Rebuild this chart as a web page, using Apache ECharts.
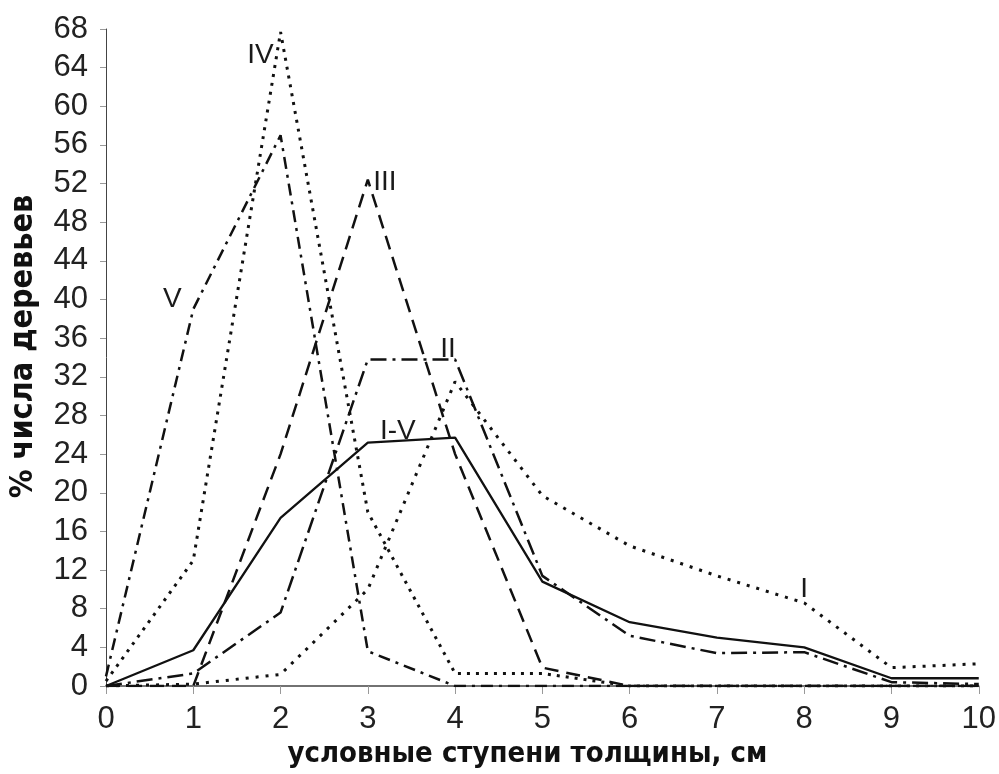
<!DOCTYPE html>
<html>
<head>
<meta charset="utf-8">
<script src="https://cdn.jsdelivr.net/npm/echarts@6/dist/echarts.min.js"></script>
<style>
  html, body { margin: 0; padding: 0; background: #ffffff; }
  #chart { width: 999px; height: 774px; }
</style>
</head>
<body>
<div id="chart"></div>
<script>
// условные ступени толщины
var steps = [0, 1, 2, 3, 4, 5, 6, 7, 8, 9, 10];

// % числа деревьев по классам
var valsI  = [0, 0.2, 1.2, 10, 31.5, 19.7, 14.5, 11.4, 8.6, 1.9, 2.3];
var valsII = [0, 1.3, 7.6, 33.8, 33.8, 11.4, 5.2, 3.4, 3.5, 0.4, 0.2];
var valsIII = [0, 0, 24, 52.4, 24, 1.9, 0, 0, 0, 0, 0];
var valsIV = [0.5, 13, 67.7, 18, 1.3, 1.3, 0, 0, 0, 0, 0];
var valsV  = [1, 39, 57, 3.6, 0, 0, 0, 0, 0, 0, 0];
var valsAll = [0, 3.7, 17.4, 25.2, 25.7, 10.8, 6.6, 5.0, 4.0, 0.8, 0.8];

var yTicks = [0, 4, 8, 12, 16, 20, 24, 28, 32, 36, 40, 44, 48, 52, 56, 60, 64, 68];

var chart = echarts.init(document.getElementById('chart'), null, { renderer: 'canvas' });

function pairs(vals) {
  return steps.map(function (x, i) { return [x, vals[i]]; });
}

// подпись кривой у заданной точки
function tag(name, vals, idx, dx, dy) {
  return {
    symbol: 'none',
    label: { show: false },
    data: [{
      coord: [steps[idx], vals[idx]],
      symbol: 'circle',
      symbolSize: 1,
      itemStyle: { color: 'rgba(0,0,0,0)' },
      label: {
        show: true,
        position: 'inside',
        offset: [dx, dy],
        formatter: name,
        color: '#1a1a1a',
        fontSize: 28,
        fontFamily: 'Liberation Sans Narrow, Liberation Sans, Arial, sans-serif'
      }
    }]
  };
}

function line(name, vals, type, width, mark) {
  return {
    name: name,
    type: 'line',
    data: pairs(vals),
    symbol: 'none',
    silent: true,
    lineStyle: { color: '#111', width: width, type: type, cap: 'butt' },
    markPoint: mark,
    z: 3
  };
}

var option = {
  backgroundColor: '#ffffff',
  animation: false,
  grid: { left: 103, right: 20, top: 29, bottom: 87 },
  xAxis: {
    type: 'value',
    min: 0,
    max: 10,
    interval: 1,
    name: 'условные ступени толщины, см',
    nameLocation: 'middle',
    nameGap: 54,
    nameTextStyle: {
      color: '#111',
      fontWeight: 'bold',
      fontSize: 29,
      padding: [0, 30, 0, 0],
      fontFamily: 'Liberation Sans Narrow, DejaVu Sans Condensed, sans-serif'
    },
    axisLine: { lineStyle: { color: '#444', width: 1.5 } },
    axisTick: { show: true, length: 8, inside: false, lineStyle: { color: '#999' } },
    axisLabel: {
      margin: 18,
      color: '#222',
      fontSize: 31,
      fontFamily: 'Liberation Sans, Arial, sans-serif'
    },
    splitLine: { show: false }
  },
  yAxis: {
    type: 'value',
    min: 0,
    max: 68,
    interval: 4,
    name: '% числа деревьев',
    nameLocation: 'middle',
    nameGap: 66,
    nameTextStyle: {
      color: '#111',
      fontWeight: 'bold',
      fontSize: 32,
      padding: [0, 0, 0, 22],
      fontFamily: 'Liberation Sans Narrow, DejaVu Sans Condensed, sans-serif'
    },
    axisLine: { show: true, lineStyle: { color: '#444', width: 1 } },
    axisTick: { show: true, length: 6, lineStyle: { color: '#999' } },
    axisLabel: {
      margin: 18,
      color: '#222',
      fontSize: 31,
      fontFamily: 'Liberation Sans, Arial, sans-serif',
      formatter: function (v) { return yTicks.indexOf(v) >= 0 ? String(v) : ''; }
    },
    splitLine: { show: false }
  },
  series: [
    line('I', valsI, [3, 7], 3, tag('I', valsI, 8, 0, -14)),
    line('II', valsII, [16, 6, 3, 6], 2.5, tag('II', valsII, 4, -7, -10)),
    line('III', valsIII, [14, 8], 2.5, tag('III', valsIII, 3, 17, 3)),
    line('IV', valsIV, [3, 6], 3, tag('IV', valsIV, 2, -20, 23)),
    line('V', valsV, [12, 6, 3, 6], 2.5, tag('V', valsV, 1, -21, -10)),
    line('I-V', valsAll, 'solid', 2.3, tag('I-V', valsAll, 3, 30, -11))
  ]
};

chart.setOption(option);
</script>
</body>
</html>
